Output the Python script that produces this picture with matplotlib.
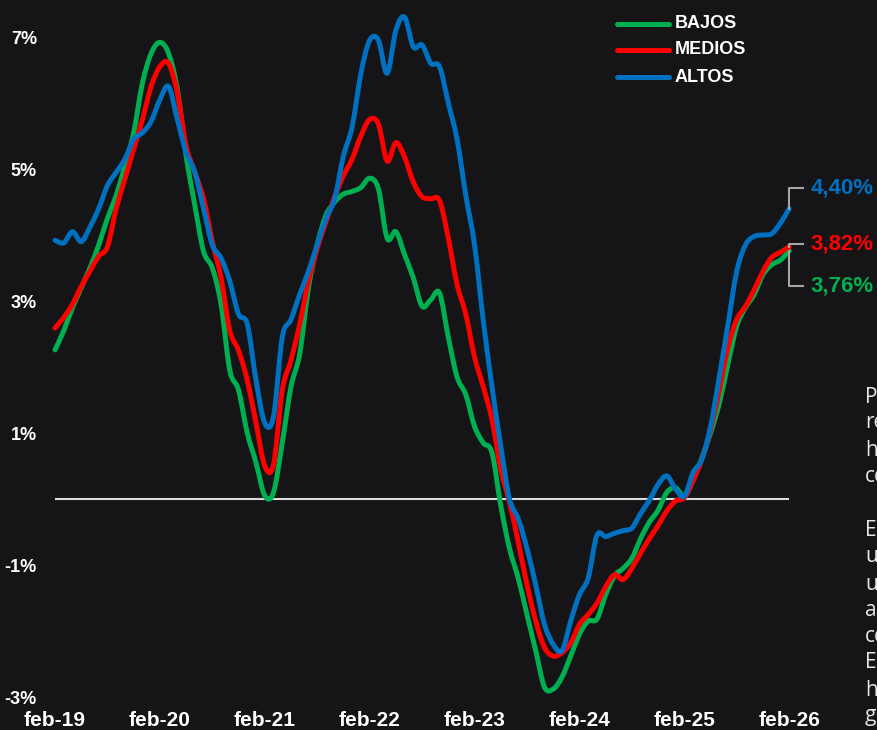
import matplotlib
matplotlib.use("Agg")
import matplotlib.pyplot as plt
from matplotlib.lines import Line2D
from matplotlib.path import Path
from matplotlib.patches import PathPatch
import numpy as np

# ---------------- data ----------------
x_tick_labels = ["feb-19", "feb-20", "feb-21", "feb-22", "feb-23", "feb-24", "feb-25", "feb-26"]
y_ticks = [-3, -1, 1, 3, 5, 7]
y_tick_labels = ["-3%", "-1%", "1%", "3%", "5%", "7%"]

series_names = ["BAJOS", "MEDIOS", "ALTOS"]
series_colors = ["#00b050", "#ff0000", "#0070c0"]
end_labels = ["3,76%", "3,82%", "4,40%"]

bajos = [2.26, 2.55, 2.90, 3.20, 3.50, 3.85, 4.25, 4.60, 5.05, 5.55,
         6.30, 6.75, 6.92, 6.75, 6.20, 5.20, 4.45, 3.75, 3.50, 2.95,
         1.95, 1.65, 1.00, 0.55, 0.05, 0.10, 0.85, 1.70, 2.20, 3.20,
         3.85, 4.30, 4.50, 4.62, 4.66, 4.72, 4.86, 4.70, 3.95, 4.05,
         3.70, 3.35, 2.92, 3.02, 3.12, 2.45, 1.85, 1.58, 1.10, 0.85,
         0.70, -0.10, -0.75, -1.20, -1.75, -2.30, -2.85, -2.88, -2.70, -2.38,
         -2.05, -1.85, -1.82, -1.45, -1.17, -1.05, -0.90, -0.60, -0.35, -0.17,
         0.10, 0.17, 0.04, 0.28, 0.62, 1.00, 1.45, 2.05, 2.62, 2.90,
         3.10, 3.40, 3.55, 3.62, 3.76]

medios = [2.59, 2.75, 2.95, 3.22, 3.45, 3.68, 3.82, 4.40, 4.85, 5.30,
          5.75, 6.25, 6.55, 6.60, 6.15, 5.35, 4.95, 4.55, 3.90, 3.35,
          2.55, 2.25, 1.80, 1.15, 0.50, 0.52, 1.65, 2.10, 2.65, 3.30,
          3.80, 4.20, 4.58, 4.90, 5.15, 5.50, 5.75, 5.68, 5.12, 5.40,
          5.18, 4.80, 4.58, 4.55, 4.52, 3.95, 3.25, 2.80, 2.15, 1.70,
          1.20, 0.45, -0.05, -0.65, -1.30, -1.85, -2.25, -2.38, -2.33, -2.18,
          -1.90, -1.75, -1.58, -1.33, -1.15, -1.22, -1.05, -0.82, -0.60, -0.40,
          -0.18, -0.03, 0.02, 0.28, 0.60, 1.05, 1.65, 2.30, 2.72, 2.92,
          3.17, 3.45, 3.66, 3.74, 3.82]

altos = [3.92, 3.88, 4.05, 3.90, 4.12, 4.40, 4.75, 4.95, 5.15, 5.45,
         5.55, 5.72, 6.05, 6.25, 5.75, 5.25, 4.95, 4.40, 3.85, 3.65,
         3.30, 2.80, 2.65, 1.80, 1.15, 1.25, 2.45, 2.72, 3.10, 3.45,
         3.85, 4.25, 4.55, 5.20, 5.64, 6.45, 6.95, 6.95, 6.45, 7.10,
         7.30, 6.85, 6.88, 6.60, 6.55, 6.00, 5.45, 4.60, 3.85, 2.70,
         1.70, 0.80, 0.00, -0.30, -0.75, -1.30, -1.90, -2.20, -2.30, -1.85,
         -1.45, -1.20, -0.55, -0.57, -0.52, -0.48, -0.44, -0.22, -0.02, 0.22,
         0.35, 0.15, 0.04, 0.40, 0.60, 1.10, 1.85, 2.65, 3.45, 3.85,
         3.98, 4.00, 4.02, 4.18, 4.40]

side_text_1 = ["P", "re", "h", "co"]
side_text_2 = ["E", "u", "u", "a", "co", "E", "h", "g"]

# ---------------- figure ----------------
W, H = 877, 730
BG = "#151517"
fig = plt.figure(figsize=(W / 100, H / 100), dpi=100, facecolor=BG)

n = len(bajos)
x = np.arange(n)

x0_px, x1_px = 55, 789.2
ytop_px, ybot_px = 4, 723.4
ax = fig.add_axes([x0_px / W, (H - ybot_px) / H, (x1_px - x0_px) / W, (ybot_px - ytop_px) / H])
ax.set_facecolor(BG)
ax.set_xlim(0, n - 1)
ax.set_ylim(-3.4, 7.5)
for s in ax.spines.values():
    s.set_visible(False)

ax.hlines(0, 0, n - 1 + 0.35, color="#d9d9d9", lw=1.5, zorder=1)


def smooth_path(xs, ys):
    """Smoothed line (like a spreadsheet 'smoothed line'): cubic Bezier
    segments passing through every data point."""
    pts = np.column_stack([xs, ys]).astype(float)
    ext = np.vstack([pts[0], pts, pts[-1]])
    verts = [pts[0]]
    codes = [Path.MOVETO]
    for i in range(len(pts) - 1):
        p0, p1, p2, p3 = ext[i], ext[i + 1], ext[i + 2], ext[i + 3]
        c1 = p1 + (p2 - p0) / 6.0
        c2 = p2 - (p3 - p1) / 6.0
        verts += [c1, c2, p2]
        codes += [Path.CURVE4] * 3
    return Path(verts, codes)


all_series = [bajos, medios, altos]
for vals, col in zip(all_series, series_colors):
    patch = PathPatch(smooth_path(x, vals), facecolor="none", edgecolor=col,
                      lw=3.6, capstyle="round", joinstyle="round",
                      zorder=3, clip_on=False)
    ax.add_patch(patch)

ax.set_yticks(y_ticks)
ax.set_yticklabels(y_tick_labels)
ax.tick_params(axis="y", length=0, pad=13, labelcolor="white", labelsize=13)
for t in ax.get_yticklabels():
    t.set_fontfamily("Liberation Sans")
    t.set_fontweight("bold")
ax.set_xticks([])

xfrac = ax.get_xaxis_transform()
ylab_frac = (ybot_px - 711) / (ybot_px - ytop_px)
for i, lab in enumerate(x_tick_labels):
    ax.text(i * 12, ylab_frac, lab, transform=xfrac, ha="center", va="top",
            color="white", fontsize=15, fontweight="bold",
            family="Liberation Sans", clip_on=False)

# legend (manual)
leg_y = [24, 50, 77]
for name, col, yy in zip(series_names, series_colors, leg_y):
    fig.add_artist(Line2D([617 / W, 669 / W], [1 - yy / H, 1 - yy / H], color=col,
                          lw=3.6, solid_capstyle="round"))
    fig.text(675 / W, 1 - yy / H, name, color="white", fontsize=13,
             fontweight="bold", family="Liberation Sans", va="center", ha="left")

# end labels with connectors
fig.canvas.draw()
label_dy = [-35, 3, 21]
for vals, col, lab, dy in zip(all_series, series_colors, end_labels, label_dy):
    px, py = ax.transData.transform((n - 1, vals[-1]))
    xs = [px, px, px + 14]
    ys = [py, py + dy, py + dy]
    fig.add_artist(Line2D([v / W for v in xs], [v / H for v in ys],
                          color="#a6a6a6", lw=1.5, transform=fig.transFigure))
    fig.text((px + 21) / W, (py + dy) / H, lab, color=col, fontsize=16,
             fontweight="bold", family="Liberation Sans", va="center", ha="left")

# side paragraph, cut off by the figure edge as in the reference
ys1 = [397, 423, 450, 477]
ys2 = [531, 557, 584, 610, 637, 663, 690, 716]
for words, yy in list(zip(side_text_1, ys1)) + list(zip(side_text_2, ys2)):
    fig.text(865 / W, 1 - yy / H, words, color="#e6e6e6", fontsize=15,
             family="Open Sans", va="center", ha="left")

fig.savefig("out.png", dpi=100, facecolor=BG)
